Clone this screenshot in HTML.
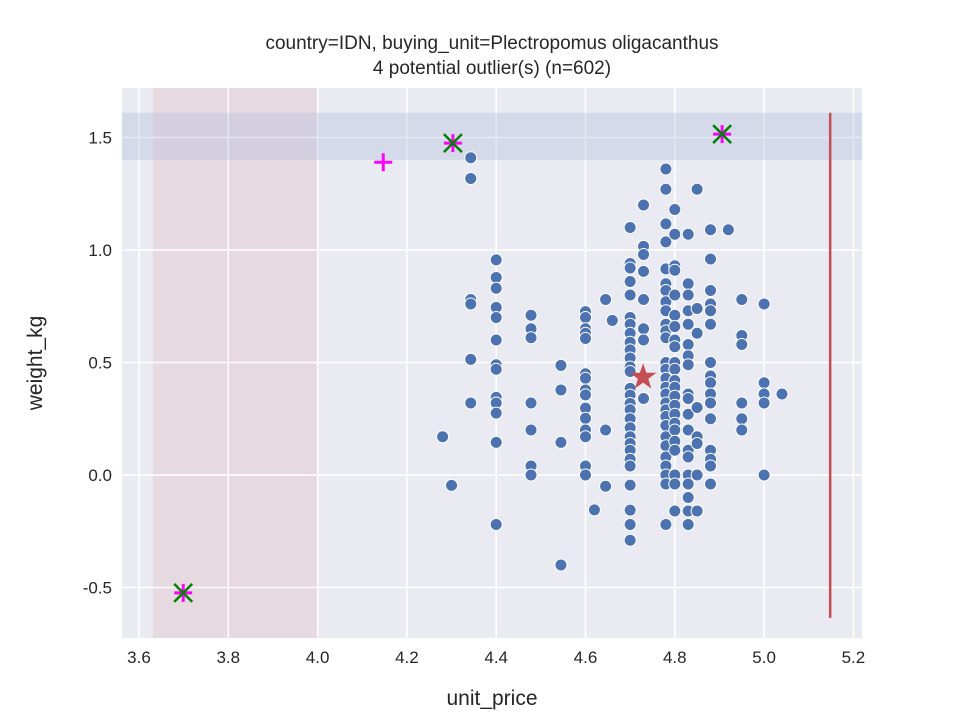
<!DOCTYPE html>
<html><head><meta charset="utf-8"><style>
body{margin:0;background:#fff;}
svg text{font-family:"Liberation Sans",sans-serif;fill:#262626;}
</style></head><body>
<svg id="chart" width="960" height="720">
<g id="g"></g>
</svg>
<script>
const xTicks=[3.6,3.8,4.0,4.2,4.4,4.6,4.8,5.0,5.2];
const yTicks=[-0.5,0.0,0.5,1.0,1.5];
const colX=[4.28,4.30,4.343,4.40,4.478,4.545,4.60,4.62,4.645,4.66,4.70,4.73,4.78,4.80,4.83,4.85,4.88,4.92,4.95,5.0,5.04];
const colY=[
[0.17],[-0.046],
[1.41,1.318,0.78,0.76,0.514,0.32],
[0.956,0.878,0.83,0.745,0.70,0.60,0.49,0.47,0.345,0.32,0.275,0.145,-0.22],
[0.71,0.65,0.61,0.32,0.20,0.04,0.0],
[0.487,0.378,0.145,-0.40],
[0.726,0.70,0.65,0.63,0.607,0.45,0.43,0.378,0.356,0.297,0.252,0.20,0.17,0.04,0.0],
[-0.155],
[0.78,0.20,-0.05],
[0.687],
[1.10,0.94,0.92,0.86,0.80,0.70,0.67,0.63,0.59,0.556,0.52,0.48,0.46,0.385,0.355,0.318,0.29,0.25,0.21,0.17,0.14,0.11,0.07,0.04,-0.045,-0.156,-0.22,-0.29],
[1.20,1.016,0.98,0.905,0.78,0.65,0.60,0.34],
[1.36,1.27,1.116,1.036,0.916,0.85,0.82,0.77,0.73,0.67,0.64,0.61,0.50,0.47,0.43,0.39,0.36,0.32,0.29,0.26,0.22,0.17,0.13,0.08,0.04,0.0,-0.04,-0.22],
[1.18,1.07,0.93,0.91,0.80,0.71,0.66,0.60,0.57,0.50,0.47,0.42,0.39,0.35,0.31,0.27,0.23,0.20,0.15,0.11,0.0,-0.04,-0.16],
[1.07,0.85,0.80,0.73,0.67,0.58,0.53,0.49,0.36,0.34,0.27,0.20,0.11,0.08,0.0,-0.04,-0.10,-0.16,-0.22],
[1.27,0.74,0.63,0.30,0.17,0.14,0.0,-0.16],
[1.09,0.96,0.82,0.76,0.73,0.67,0.50,0.44,0.41,0.36,0.32,0.25,0.11,0.07,0.04,-0.04],
[1.09],
[0.78,0.62,0.58,0.32,0.25,0.20],
[0.76,0.41,0.36,0.32,0.0],
[0.36]
];
const outlierX=[4.303,4.906,3.699];
const outlierY=[1.475,1.515,-0.524];
const plusX=[4.147,4.303,4.906,3.699];
const plusY=[1.39,1.475,1.515,-0.524];
const centerX=[4.729], centerY=[0.435];
const bandY=[1.40,1.61], bandX=[3.631,4.0];
const refLineX=[5.148], refLineY=[-0.635,1.61];

const L=122,R=862,T=88,B=638;
const sx=v=>139+(v-3.6)*446.5;
const sy=v=>475-v*225;
const NS='http://www.w3.org/2000/svg';
const g=document.getElementById('g');
function mk(t,a,p){const e=document.createElementNS(NS,t);for(const k in a)e.setAttribute(k,a[k]);(p||g).appendChild(e);return e;}
const bg=mk('rect',{x:L,y:T,width:R-L,height:B-T,fill:'#eaeaf2'});


const vb=mk('rect',{x:sx(bandX[0]),y:T,width:sx(bandX[1])-sx(bandX[0]),height:B-T,fill:'#e6d9e0'});


xTicks.forEach(t=>{
 const l=mk('line',{x1:sx(t),x2:sx(t),y1:T,y2:B,stroke:'#fff','stroke-width':1.5});
 
 
 const tx=mk('text',{x:sx(t),y:B+25,'text-anchor':'middle','font-size':17});tx.textContent=t.toFixed(1);
 
 
});
yTicks.forEach(t=>{
 const l=mk('line',{x1:L,x2:R,y1:sy(t),y2:sy(t),stroke:'#fff','stroke-width':1.5});
 
 
 const tx=mk('text',{x:L-10,y:sy(t)+6,'text-anchor':'end','font-size':17});tx.textContent=t.toFixed(1);
 
 
});
const hb=mk('rect',{x:L,y:sy(bandY[1]),width:R-L,height:sy(bandY[0])-sy(bandY[1]),fill:'#b0bcdc','fill-opacity':0.35});


colX.forEach((x,i)=>colY[i].forEach(y=>{
 const c=mk('circle',{cx:sx(x),cy:sy(y),r:6,fill:'#4c72b0',stroke:'#fff','stroke-width':1});
 
 
}));
const rl=mk('line',{x1:sx(refLineX[0]),x2:sx(refLineX[0]),y1:sy(refLineY[0]),y2:sy(refLineY[1]),stroke:'#c44e52','stroke-width':2.5});


{const cx=sx(centerX[0]),cy=sy(centerY[0]);let p=[];for(let k=0;k<10;k++){const r=k%2?5.5:14,a=-Math.PI/2+k*Math.PI/5;p.push((cx+r*Math.cos(a)).toFixed(1)+','+(cy+r*Math.sin(a)).toFixed(1));}
const s=mk('polygon',{points:p.join(' '),fill:'#c44e52'});

}
plusX.forEach((x,i)=>{const cx=sx(x),cy=sy(plusY[i]);
 const p=mk('path',{d:`M${cx-9} ${cy}H${cx+9}M${cx} ${cy-9}V${cy+9}`,stroke:'#ff00ff','stroke-width':3});
 
 
});
outlierX.forEach((x,i)=>{const cx=sx(x),cy=sy(outlierY[i]);
 const p=mk('path',{d:`M${cx-9} ${cy-9}L${cx+9} ${cy+9}M${cx-9} ${cy+9}L${cx+9} ${cy-9}`,stroke:'#008000','stroke-width':2.5});
 
 
});
</script>
<svg width="960" height="720" style="position:absolute;left:0;top:0">
<text x="492" y="49" text-anchor="middle" font-size="19">country=IDN, buying_unit=Plectropomus oligacanthus</text>
<text x="492" y="74" text-anchor="middle" font-size="19">4 potential outlier(s) (n=602)</text>
<text x="492" y="705" text-anchor="middle" font-size="21">unit_price</text>
<text x="42" y="363" text-anchor="middle" font-size="21" transform="rotate(-90 42 363)">weight_kg</text>
</svg>
</body></html>
